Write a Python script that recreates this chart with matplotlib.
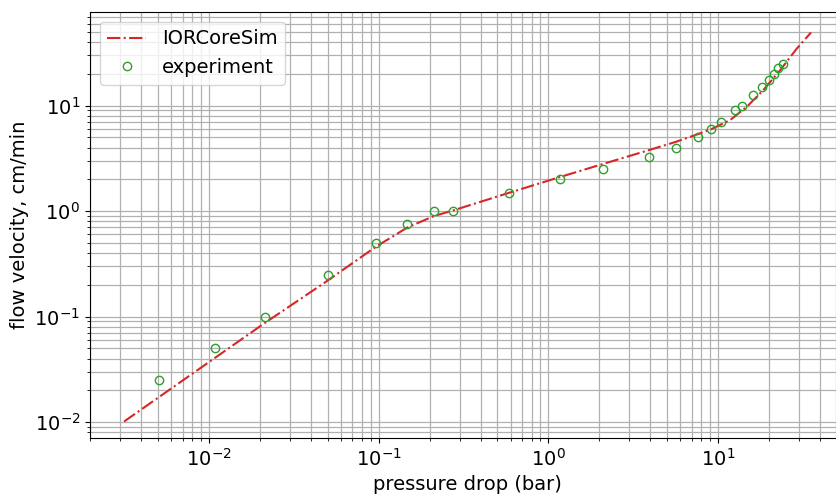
import matplotlib
matplotlib.use("Agg")
import matplotlib.pyplot as plt

# IORCoreSim model curve: pressure drop (bar) vs flow velocity (cm/min)
sim_dp = [0.00316, 0.0212, 0.049, 0.0964, 0.148, 0.212, 0.278, 0.587, 1.18,
          2.09, 3.93, 5.66, 7.63, 9.14, 11.8, 14.8, 18.5, 23.3, 29.2, 35.4]
sim_vel = [0.0101, 0.0862, 0.214, 0.459, 0.70, 0.897, 1.02, 1.49, 2.11,
           2.79, 3.79, 4.54, 5.37, 5.98, 7.29, 9.74, 14.0, 21.7, 34.8, 49.4]

# measured core flood points
exp_dp = [0.0051, 0.0108, 0.0215, 0.050, 0.096, 0.147, 0.212, 0.276, 0.587,
          1.18, 2.09, 3.93, 5.66, 7.63, 9.14, 10.4, 12.6, 13.9, 16.1, 18.2,
          20.0, 21.3, 22.7, 24.1]
exp_vel = [0.025, 0.05, 0.1, 0.25, 0.5, 0.75, 1.0, 1.0, 1.5, 2.0, 2.5, 3.25,
           4.0, 5.0, 6.0, 7.0, 9.0, 10.0, 12.5, 15.0, 17.5, 20.0, 22.5, 25.0]


def main():
    fig = plt.figure(figsize=(8.37, 4.94), dpi=100)
    ax = fig.add_axes([0.1075, 0.114, 0.902, 0.862])

    ax.plot(sim_dp, sim_vel, "-.", color="tab:red", lw=1.5, label="IORCoreSim")
    ax.plot(exp_dp, exp_vel, "o", color="tab:green", mfc="none", ms=6,
            label="experiment")

    ax.set_xscale("log")
    ax.set_yscale("log")
    ax.set_xlim(0.00199, 56.1)
    ax.set_ylim(0.0071, 77.5)

    ax.grid(True, which="both", color="#b0b0b0", lw=0.9)
    ax.tick_params(labelsize=14)
    ax.set_xlabel("pressure drop (bar)", fontsize=14)
    ax.set_ylabel("flow velocity, cm/min", fontsize=14)
    ax.legend(loc="upper left", fontsize=14)

    fig.savefig("out.png", dpi=100)


if __name__ == "__main__":
    main()
